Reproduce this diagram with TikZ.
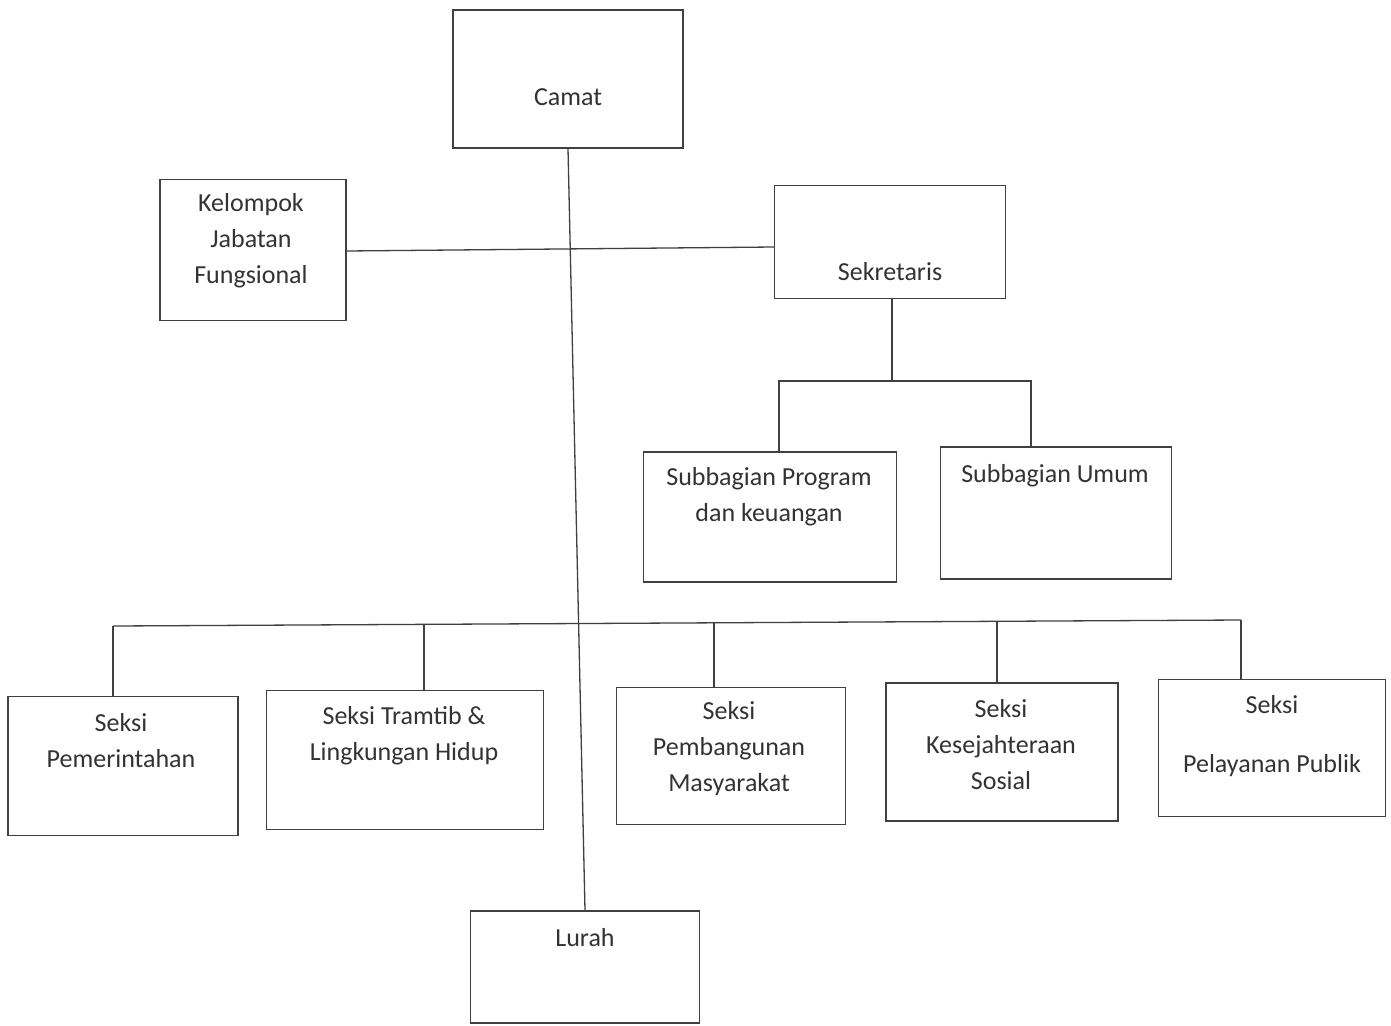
\documentclass[tikz,border=0pt]{standalone}
\usepackage{fontspec}
\setmainfont{Carlito}
\begin{document}
\begin{tikzpicture}[x=1pt,y=-1pt,
  box/.style={draw=black!75,line width=1.3pt,rectangle,inner sep=0pt},
  lbl/.style={font=\fontsize{26}{36}\selectfont,text=black!80,align=center,inner sep=0pt},
  conn/.style={draw=black!75,line width=1.3pt}]
\useasboundingbox[fill=white] (0,0) rectangle (1391,1025);
% boxes
\node[box,minimum width=230pt,minimum height=138pt] (camat) at (568,79) {};
\node[box,minimum width=186pt,minimum height=141pt] (kjf) at (253,250) {};
\node[box,minimum width=231pt,minimum height=113pt] (sek) at (890,242) {};
\node[box,minimum width=253pt,minimum height=130pt] (sbp) at (770,517) {};
\node[box,minimum width=231pt,minimum height=132pt] (sbu) at (1056,513) {};
\node[box,minimum width=230pt,minimum height=139pt] (s1) at (123,766) {};
\node[box,minimum width=277pt,minimum height=139pt] (s2) at (405,760) {};
\node[box,minimum width=229pt,minimum height=137pt] (s3) at (731,756) {};
\node[box,minimum width=232pt,minimum height=138pt] (s4) at (1002,752) {};
\node[box,minimum width=227pt,minimum height=137pt] (s5) at (1272,748) {};
\node[box,minimum width=229pt,minimum height=112pt] (lurah) at (585,967) {};
% texts
\node[lbl] (camat-t) at (568,97) {Camat};
\node[lbl] (kjf-t) at (251,241) {Kelompok\\Jabatan\\Fungsional};
\node[lbl] (sek-t) at (890,272) {Sekretaris};
\node[lbl] (sbp-t) at (769,497) {Subbagian Program\\dan keuangan};
\node[lbl] (sbu-t) at (1055,476) {Subbagian Umum};
\node[lbl] (s1-t) at (121,741) {Seksi\\Pemerintahan};
\node[lbl] (s2-t) at (404,736) {Seksi Tramtib \&\\Lingkungan Hidup};
\node[lbl] (s3-t) at (729,749) {Seksi\\Pembangunan\\Masyarakat};
\node[lbl] (s4-t) at (1001,745) {Seksi\\Kesejahteraan\\Sosial};
\node[lbl] (s5-t1) at (1272,705) {Seksi};
\node[lbl] (s5-t2) at (1272,766) {Pelayanan Publik};
\node[lbl] (lurah-t) at (585,938) {Lurah};
% connectors
\draw[conn] (kjf.east |- 0,251) -- (sek.west |- 0,247);
\draw[conn] (camat.south) -- (lurah.north);
\coordinate (sj) at (892,381);
\draw[conn] (sek.south -| sj) -- (sj);
\coordinate (bl) at (779,381);
\coordinate (br) at (1031,381);
\draw[conn] (sbp.north -| bl) -- (bl) -- (br) -- (sbu.north -| br);
\coordinate (b1) at (113,626);
\coordinate (b2) at (424,625);
\coordinate (b3) at (714,623);
\coordinate (b4) at (997,622);
\coordinate (b5) at (1241,620);
\draw[conn] (b1) -- (b5);
\draw[conn] (b1) -- (s1.north -| b1);
\draw[conn] (b2) -- (s2.north -| b2);
\draw[conn] (b3) -- (s3.north -| b3);
\draw[conn] (b4) -- (s4.north -| b4);
\draw[conn] (b5) -- (s5.north -| b5);
\end{tikzpicture}
\end{document}
